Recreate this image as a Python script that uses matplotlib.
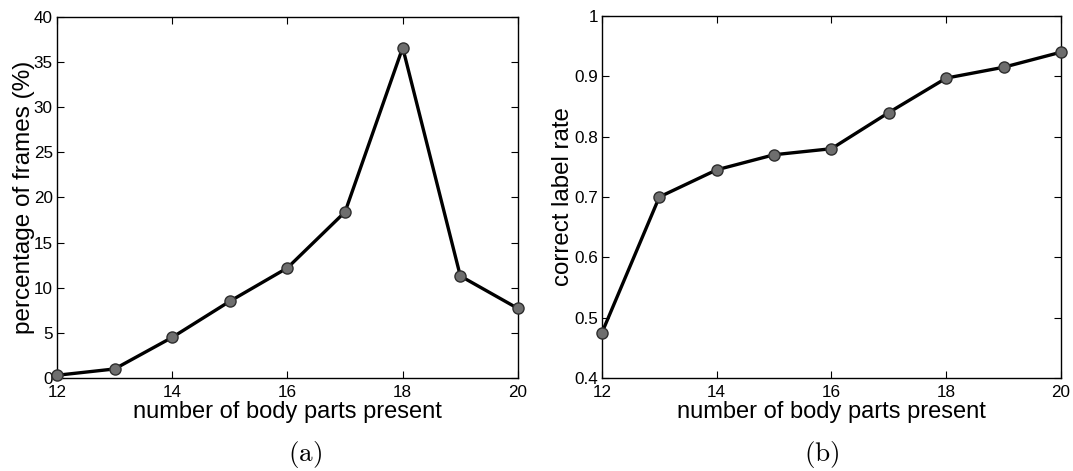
import matplotlib
matplotlib.use("Agg")
import matplotlib.pyplot as plt

# data
parts = [12, 13, 14, 15, 16, 17, 18, 19, 20]
pct_frames = [0.3, 1.0, 4.5, 8.5, 12.2, 18.4, 36.6, 11.3, 7.7]
label_rate = [0.475, 0.70, 0.745, 0.77, 0.78, 0.84, 0.897, 0.915, 0.94]

x_ticks = [12, 14, 16, 18, 20]
y_ticks_a = [0, 5, 10, 15, 20, 25, 30, 35, 40]
y_ticks_b = [0.4, 0.5, 0.6, 0.7, 0.8, 0.9, 1.0]
y_ticklabels_b = ["0.4", "0.5", "0.6", "0.7", "0.8", "0.9", "1"]

plt.rcParams['font.family'] = ['Liberation Sans', 'DejaVu Sans']
plt.rcParams['mathtext.fontset'] = 'cm'

fig = plt.figure(figsize=(10.73, 4.71), dpi=100)
ax_a = fig.add_axes([0.0531, 0.1975, 0.4296, 0.7665])
ax_b = fig.add_axes([0.5610, 0.1975, 0.4278, 0.7686])


def style_axes(ax):
    ax.tick_params(direction='in', top=True, right=True, length=5,
                   width=0.8, labelsize=12.3)
    ax.tick_params(axis='x', pad=5)
    ax.tick_params(axis='y', pad=3)
    for sp in ax.spines.values():
        sp.set_linewidth(1.0)
    ax.set_xlim(12, 20)
    ax.set_xticks(x_ticks)
    ax.set_xlabel("number of body parts present", fontsize=17, labelpad=1)


line_kw = dict(color='black', linewidth=2.4, marker='o', markersize=8,
               markerfacecolor='#6e6e6e', markeredgecolor='#2e2e2e',
               markeredgewidth=1.0, clip_on=False, zorder=3)

ax_a.plot(parts, pct_frames, **line_kw)
style_axes(ax_a)
ax_a.set_ylim(0, 40)
ax_a.set_yticks(y_ticks_a)
ax_a.set_ylabel("percentage of frames (%)", fontsize=17.5, labelpad=-1)

ax_b.plot(parts, label_rate, **line_kw)
style_axes(ax_b)
ax_b.set_ylim(0.4, 1.0)
ax_b.set_yticks(y_ticks_b)
ax_b.set_yticklabels(y_ticklabels_b)
ax_b.set_ylabel("correct label rate", fontsize=17.3, labelpad=0)

fig.text(0.2843, 0.034, r"$\mathrm{(a)}$", fontsize=19.5, ha='center', va='center')
fig.text(0.766, 0.034, r"$\mathrm{(b)}$", fontsize=19.5, ha='center', va='center')

fig.savefig("out.png", dpi=100)
